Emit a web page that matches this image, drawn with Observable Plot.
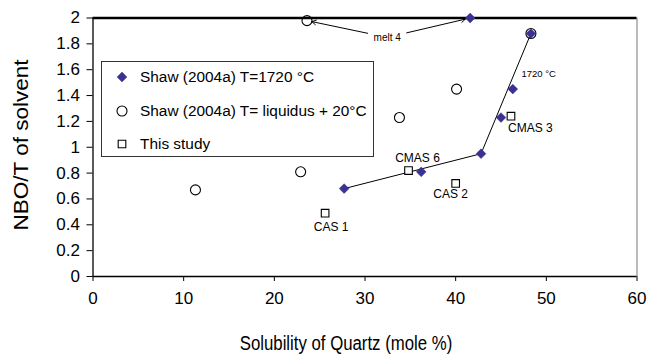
<!DOCTYPE html>
<html>
<head>
<meta charset="utf-8">
<script src="https://cdn.jsdelivr.net/npm/d3@7"></script>
<script src="https://cdn.jsdelivr.net/npm/@observablehq/plot@0.6"></script>
<style>
  body { margin: 0; background: #fff; }
  #wrap { position: relative; width: 648px; height: 355px; font-family: "Liberation Sans", Arial, sans-serif; color: #000; }
  #wrap > svg { position: absolute; left: 0; top: 0; }
  .ytitle { position: absolute; left: 22px; top: 145px; transform: translate(-50%, -50%) rotate(-90deg) scale(1, 0.87); font-size: 22.5px; white-space: nowrap; }
  .xtitle { position: absolute; left: 346px; top: 343px; transform: translate(-50%, -50%) scale(0.86, 1); font-size: 19.5px; white-space: nowrap; }
  .legend { position: absolute; left: 101px; top: 61px; width: 271px; height: 94px; border: 1px solid #333; background: #fff; }
  .legend .row { position: absolute; left: 0; height: 20px; display: flex; align-items: center; font-size: 15.4px; white-space: nowrap; }
  .legend .row svg { display: block; margin-left: 13px; margin-right: 11px; }
</style>
</head>
<body>
<div id="wrap"></div>
<script>
// ---- data ----
const shaw1720X = [27.7, 36.2, 42.8, 45.0, 46.3, 48.3, 41.6];
const shaw1720Y = [0.68, 0.81, 0.95, 1.23, 1.45, 1.88, 2.0];

const shawLiqX = [11.3, 22.9, 23.6, 33.8, 40.1, 48.3];
const shawLiqY = [0.67, 0.81, 1.98, 1.23, 1.45, 1.88];

const studyNames = ["CAS 1", "CMAS 6", "CAS 2", "CMAS 3"];
const studyX = [25.6, 34.8, 40.0, 46.1];
const studyY = [0.49, 0.82, 0.72, 1.24];

const trendX = [27.7, 42.8, 48.3];
const trendY = [0.68, 0.95, 1.88];

const melt4Label = "melt 4";
const melt4X = 32.45, melt4Y = 1.85;
const melt4TargetsX = [23.6, 41.6];
const melt4TargetsY = [1.98, 2.0];

const tempLabel = "1720 °C";
const tempX = 47.25, tempY = 1.57;

const xTicks = [0, 10, 20, 30, 40, 50, 60];
const yTicks = [0, 0.2, 0.4, 0.6, 0.8, 1, 1.2, 1.4, 1.6, 1.8, 2];

const legendLabels = ["Shaw (2004a) T=1720 °C", "Shaw (2004a) T= liquidus + 20°C", "This study"];
const xTitle = "Solubility of Quartz (mole %)";
const yTitle = "NBO/T of solvent";

// ---- tables ----
const shaw = shaw1720X.map((x, i) => ({x, y: shaw1720Y[i]}));
const liq = shawLiqX.map((x, i) => ({x, y: shawLiqY[i]}));
const study = studyNames.map((name, i) => ({name, x: studyX[i], y: studyY[i]}));
const trend = trendX.map((x, i) => ({x, y: trendY[i]}));
const arrows = melt4TargetsX.map((x, i) => ({x1: melt4X, y1: melt4Y, x2: x, y2: melt4TargetsY[i]}));

// label placement (offsets in px)
const placement = {
  "CAS 1": {dx: 6, dy: 14, anchor: "middle"},
  "CMAS 6": {dx: 9, dy: -12, anchor: "middle"},
  "CAS 2": {dx: -5, dy: 11, anchor: "middle"},
  "CMAS 3": {dx: -3, dy: 12, anchor: "start"}
};

const FONT = "'Liberation Sans', Arial, sans-serif";
const BLUE = "#3b3192";
const DIAMOND_R = 4.4;

const labelMarks = study.map(d => Plot.text([d], {
  x: "x", y: "y", text: "name",
  dx: placement[d.name].dx, dy: placement[d.name].dy,
  textAnchor: placement[d.name].anchor,
  fontSize: 12, fill: "#000"
}));

const chart = Plot.plot({
  width: 648,
  height: 355,
  marginLeft: 92.5,
  marginRight: 11.5,
  marginTop: 17.5,
  marginBottom: 79,
  style: {fontFamily: FONT, fontSize: "16px", color: "#000", background: "transparent", overflow: "visible"},
  x: {domain: [0, 60]},
  y: {domain: [0, 2]},
  marks: [
    Plot.axisX({ticks: xTicks, tickSize: 5, tickPadding: 10, label: null, fontSize: 17, stroke: "#000"}),
    Plot.axisY({ticks: yTicks, tickSize: 6, tickPadding: 7, label: null, fontSize: 17, tickFormat: d3.format("~g"), stroke: "#000"}),
    Plot.ruleX([60], {stroke: "#777", strokeWidth: 1}),
    Plot.ruleX([0], {stroke: "#000", strokeWidth: 1.3}),
    Plot.ruleY([0], {stroke: "#000", strokeWidth: 1.3}),
    Plot.ruleY([2], {stroke: "#000", strokeWidth: 2.5}),
    Plot.line(trend, {x: "x", y: "y", stroke: "#000", strokeWidth: 1}),
    Plot.arrow(arrows, {x1: "x1", y1: "y1", x2: "x2", y2: "y2", stroke: "#000", strokeWidth: 1, insetStart: 20, insetEnd: 5, headLength: 7}),
    Plot.dot(liq, {x: "x", y: "y", symbol: "circle", r: 5, stroke: "#000", strokeWidth: 1.1, fill: "none"}),
    Plot.dot(study, {x: "x", y: "y", symbol: "square", r: 4.3, stroke: "#000", strokeWidth: 1.1, fill: "#fff"}),
    Plot.dot(shaw, {x: "x", y: "y", symbol: "diamond2", r: DIAMOND_R, fill: BLUE, stroke: BLUE, strokeWidth: 0.5}),
    ...labelMarks,
    Plot.text([{x: melt4X, y: melt4Y}], {x: "x", y: "y", text: () => melt4Label, fontSize: 10, fill: "#000"}),
    Plot.text([{x: tempX, y: tempY}], {x: "x", y: "y", text: () => tempLabel, fontSize: 9.5, textAnchor: "start", fill: "#000"})
  ]
});

const wrap = document.getElementById("wrap");
wrap.appendChild(chart);

// titles
const yt = document.createElement("div"); yt.className = "ytitle"; yt.textContent = yTitle; wrap.appendChild(yt);
const xt = document.createElement("div"); xt.className = "xtitle"; xt.textContent = xTitle; wrap.appendChild(xt);

// legend
const legend = document.createElement("div"); legend.className = "legend";
const rowTops = [5, 39, 72];
const symbolsSvg = [
  `<svg width="14" height="14" viewBox="-7 -7 14 14"><path d="${d3.symbol(d3.symbolDiamond2, Math.PI * DIAMOND_R * DIAMOND_R)()}" fill="${BLUE}" stroke="${BLUE}" stroke-width="0.5"/></svg>`,
  `<svg width="14" height="14" viewBox="-7 -7 14 14"><path d="${d3.symbol(d3.symbolCircle, Math.PI * 25)()}" fill="none" stroke="#000" stroke-width="1.1"/></svg>`,
  `<svg width="14" height="14" viewBox="-7 -7 14 14"><path d="${d3.symbol(d3.symbolSquare, Math.PI * 4.3 * 4.3)()}" fill="#fff" stroke="#000" stroke-width="1.1"/></svg>`
];
legendLabels.forEach((lab, i) => {
  const row = document.createElement("div");
  row.className = "row";
  row.style.top = rowTops[i] + "px";
  row.innerHTML = symbolsSvg[i];
  const span = document.createElement("span");
  span.textContent = lab;
  row.appendChild(span);
  legend.appendChild(row);
});
wrap.appendChild(legend);
</script>
</body>
</html>
